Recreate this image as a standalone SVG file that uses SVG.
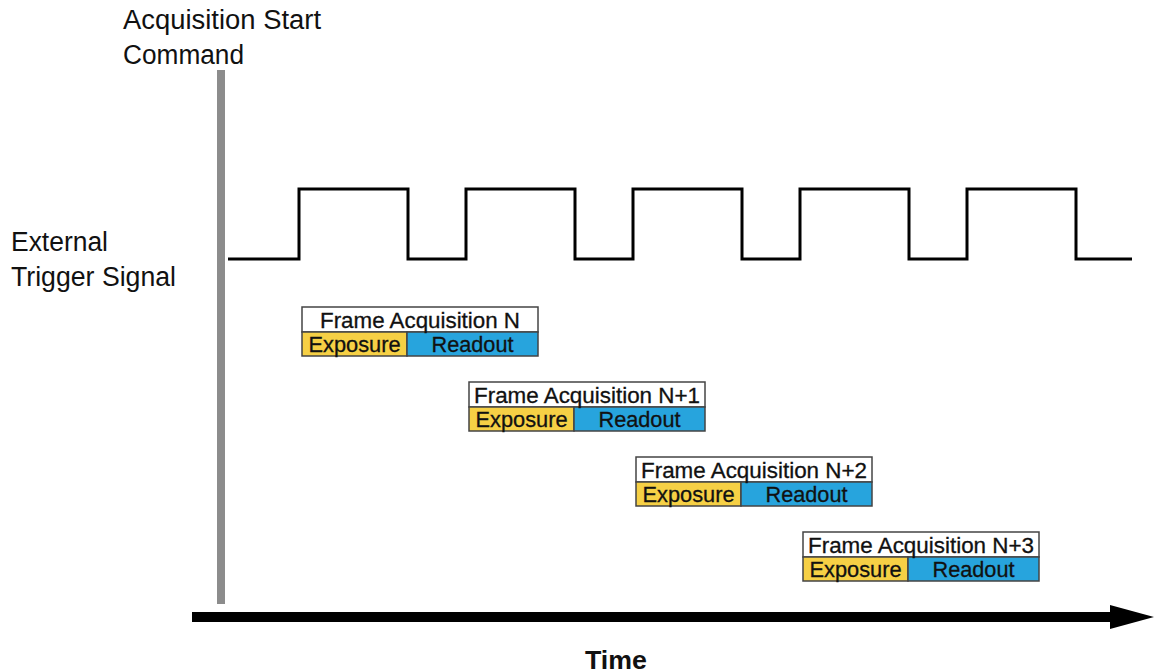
<svg xmlns="http://www.w3.org/2000/svg" width="1154" height="672" viewBox="0 0 1154 672">
<style>
.lbl{font-family:"Liberation Sans Narrow","Liberation Sans",Arial,sans-serif;font-size:27px;fill:#111}
.bt{font-family:"Liberation Sans Narrow","Liberation Sans",Arial,sans-serif;font-size:22px;fill:#111;text-anchor:middle;stroke:#111;stroke-width:0.3}
.frame{fill:#fff;stroke:#444;stroke-width:1.5}
.exp{fill:#f6d045;stroke:#444;stroke-width:1.5}
.rd{fill:#27a4dd;stroke:#444;stroke-width:1.5}
</style>
<defs>
<marker id="ah" markerUnits="userSpaceOnUse" markerWidth="44" markerHeight="24" refX="0" refY="12" orient="auto">
<path d="M0,0 L44,12 L0,24 Z" fill="#000"/>
</marker>
</defs>
<g id="labels">
<text class="lbl" x="123" y="29" textLength="198" lengthAdjust="spacingAndGlyphs">Acquisition Start</text>
<text class="lbl" x="123" y="64" textLength="121" lengthAdjust="spacingAndGlyphs">Command</text>
<text class="lbl" x="11" y="251" textLength="97" lengthAdjust="spacingAndGlyphs">External</text>
<text class="lbl" x="11" y="286" textLength="165" lengthAdjust="spacingAndGlyphs">Trigger Signal</text>
<text x="616" y="669" text-anchor="middle" style="font-family:'Liberation Sans Narrow','Liberation Sans',Arial,sans-serif;font-size:25px;font-weight:bold;fill:#111" textLength="62" lengthAdjust="spacingAndGlyphs">Time</text>
</g>
<g id="connectors">
<rect x="217" y="70" width="8" height="534" fill="#8c8c8c"/>
<line x1="192" y1="617" x2="1110" y2="617" stroke="#000" stroke-width="10" marker-end="url(#ah)"/>
<path d="M228,259 H299 V189 H408 V259 H466 V189 H575 V259 H633 V189 H742 V259 H800 V189 H909 V259 H967 V189 H1076 V259 H1132" fill="none" stroke="#000" stroke-width="3"/>
</g>
<g id="frameN">
<rect class="frame" x="302" y="307" width="236" height="25"/>
<rect class="exp" x="302" y="332" width="105" height="24"/>
<rect class="rd" x="407" y="332" width="131" height="24"/>
<text class="bt" x="420" y="328" textLength="200" lengthAdjust="spacingAndGlyphs">Frame Acquisition N</text>
<text class="bt" x="354.5" y="352" textLength="92" lengthAdjust="spacingAndGlyphs">Exposure</text>
<text class="bt" x="472.5" y="352" textLength="82" lengthAdjust="spacingAndGlyphs">Readout</text>
</g>
<g id="frameN1">
<rect class="frame" x="469" y="382" width="236" height="25"/>
<rect class="exp" x="469" y="407" width="105" height="24"/>
<rect class="rd" x="574" y="407" width="131" height="24"/>
<text class="bt" x="587" y="403" textLength="226" lengthAdjust="spacingAndGlyphs">Frame Acquisition N+1</text>
<text class="bt" x="521.5" y="427" textLength="92" lengthAdjust="spacingAndGlyphs">Exposure</text>
<text class="bt" x="639.5" y="427" textLength="82" lengthAdjust="spacingAndGlyphs">Readout</text>
</g>
<g id="frameN2">
<rect class="frame" x="636" y="457" width="236" height="25"/>
<rect class="exp" x="636" y="482" width="105" height="24"/>
<rect class="rd" x="741" y="482" width="131" height="24"/>
<text class="bt" x="754" y="478" textLength="226" lengthAdjust="spacingAndGlyphs">Frame Acquisition N+2</text>
<text class="bt" x="688.5" y="502" textLength="92" lengthAdjust="spacingAndGlyphs">Exposure</text>
<text class="bt" x="806.5" y="502" textLength="82" lengthAdjust="spacingAndGlyphs">Readout</text>
</g>
<g id="frameN3">
<rect class="frame" x="803" y="532" width="236" height="25"/>
<rect class="exp" x="803" y="557" width="105" height="24"/>
<rect class="rd" x="908" y="557" width="131" height="24"/>
<text class="bt" x="921" y="553" textLength="226" lengthAdjust="spacingAndGlyphs">Frame Acquisition N+3</text>
<text class="bt" x="855.5" y="577" textLength="92" lengthAdjust="spacingAndGlyphs">Exposure</text>
<text class="bt" x="973.5" y="577" textLength="82" lengthAdjust="spacingAndGlyphs">Readout</text>
</g>
</svg>
